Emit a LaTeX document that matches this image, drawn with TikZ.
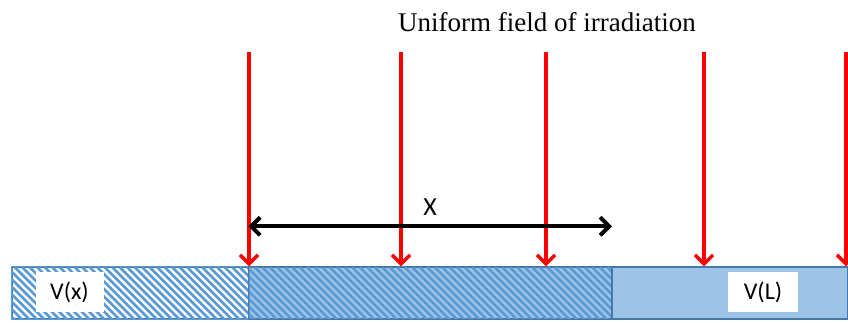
\documentclass[tikz,border=0pt]{standalone}
\usepackage{fontspec}
\setmainfont{Liberation Serif}
\newfontfamily\calib{Carlito}
\usetikzlibrary{arrows.meta}
\definecolor{barblue}{RGB}{157,195,230}
\definecolor{hatchblue}{RGB}{91,155,213}
\definecolor{edgeblue}{RGB}{70,120,170}

\begin{document}
\begin{tikzpicture}[x=1pt,y=1pt,
  region/.style={draw=edgeblue,line width=1.2pt,minimum height=52pt,inner sep=0pt,anchor=south west},
  stripe/.style={hatchblue,line width=2.8pt},
  ray/.style={-{Straight Barb[length=9pt,width=18pt]},red,line width=3.4pt},
  span/.style={{Straight Barb[length=9pt,width=18pt]}-{Straight Barb[length=9pt,width=18pt]},black,line width=4pt},
  vbox/.style={fill=white,font=\calib\fontsize{24}{26}\selectfont,minimum width=68pt,minimum height=40pt,inner sep=0pt}]
\useasboundingbox (0,0) rectangle (848,322);
\node[region,minimum width=236.6pt,fill=white] (vx) at (11.7,2.5) {};
\node[region,minimum width=362.5pt,fill=barblue] (mid) at (248.3,2.5) {};
\node[region,minimum width=236pt,fill=barblue] (vl) at (610.8,2.5) {};
\begin{scope}
\clip (vx.south west) rectangle (mid.north east);
\foreach \k in {-60,-52.5,...,620}
  \draw[stripe] (\k,54.5) -- ++(52,-52);
\end{scope}
\draw[hatchblue,line width=1.2pt] (vx.south west) rectangle (vx.north east);
\draw[edgeblue,line width=1.2pt] (mid.south west) rectangle (vl.north east);
\draw[edgeblue,line width=1.2pt] (mid.north east) -- (mid.south east);
\node[vbox] (vxlab) at (69.5,30) {V(x)};
\node[vbox,minimum width=70pt] (vllab) at (763,30) {V(L)};
\foreach \x [count=\i] in {249,401,546,704,846} {
  \coordinate (top\i) at (\x,270);
  \draw[ray] (top\i) -- (top\i |- vx.north);
}
\draw[span] ([yshift=40pt]mid.north west) -- ([yshift=40pt]mid.north east);
\node[font=\calib\fontsize{26}{28}\selectfont] (xlab) at (430,115) {X};
\node[font=\fontsize{27}{29}\selectfont] (title) at (547,300) {Uniform field of irradiation};
\end{tikzpicture}
\end{document}
